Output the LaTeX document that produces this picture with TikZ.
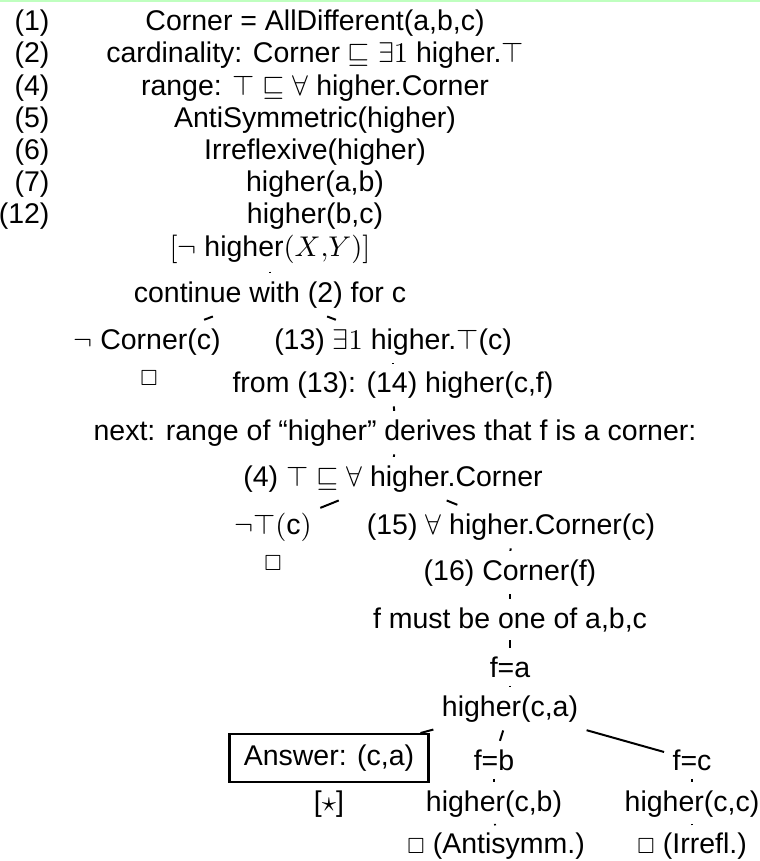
\documentclass[tikz,border=0pt]{standalone}
\usepackage{amsmath,amssymb}
\usepackage{fontspec}
\setmainfont{Liberation Sans}
\usepackage{tikz}
\usetikzlibrary{positioning}

\begin{document}
\begin{tikzpicture}[x=0.351pt, y=-0.351pt, lbl/.style={inner sep=2.8pt, anchor=base}, num/.style={inner sep=2.8pt, anchor=base east}, ans/.style={draw, line width=0.8pt, inner xsep=5pt, inner ysep=3.7pt}, link/.style={line width=0.7pt}]
\useasboundingbox (0,0) rectangle (760,861);
\draw[green!25, line width=0.6pt] (0,1) -- (760,1);
\node[num] (n1) at (58,30) {(1)};
\node[num] (n2) at (58,62) {(2)};
\node[num] (n4) at (58,95) {(4)};
\node[num] (n5) at (58,127) {(5)};
\node[num] (n6) at (58,159) {(6)};
\node[num] (n7) at (58,191) {(7)};
\node[num] (n12) at (58,223) {(12)};
\node[lbl] (ax1) at (315,30) {Corner = AllDifferent(a,b,c)};
\node[lbl] (ax2) at (315,62) {cardinality: Corner $\sqsubseteq$ $\exists 1$ higher.$\top$};
\node[lbl] (ax4) at (315,95) {range: $\top$ $\sqsubseteq$ $\forall$ higher.Corner};
\node[lbl] (ax5) at (315,127) {AntiSymmetric(higher)};
\node[lbl] (ax6) at (315,159) {Irreflexive(higher)};
\node[lbl] (ax7) at (315,191) {higher(a,b)};
\node[lbl] (ax12) at (315,223) {higher(b,c)};
\node[lbl] (goal) at (270,256) {$[\neg$ higher$(X{,}Y)]$};
\node[lbl] (cont) at (270,302) {continue with (2) for c};
\node[lbl] (ncorner) at (147,349) {$\neg$ Corner(c)};
\node[lbl] (ex13) at (393,349) {(13) $\exists 1$ higher.$\top$(c)};
\node[lbl] (clos1) at (149,385) {$\scriptstyle\square$};
\node[lbl] (from14) at (393,392) {from (13): (14) higher(c,f)};
\node[lbl] (next) at (395,440) {next: range of “higher” derives that f is a corner:};
\node[lbl] (rng4) at (393,486) {(4) $\top\sqsubseteq\forall$ higher.Corner};
\node[lbl] (ntop) at (273,534) {$\neg\top($c$)$};
\node[lbl] (all15) at (511,534) {(15) $\forall$ higher.Corner(c)};
\node[lbl] (clos2) at (273,570) {$\scriptstyle\square$};
\node[lbl] (corner16) at (510,580) {(16) Corner(f)};
\node[lbl] (fmust) at (510,628) {f must be one of a,b,c};
\node[lbl] (fa) at (510,677) {f=a};
\node[lbl] (hca) at (510,716) {higher(c,a)};
\node[ans] (answer) at (329,758) {Answer: (c,a)};
\node[lbl] (fb) at (494,770) {f=b};
\node[lbl] (fc) at (692,770) {f=c};
\node[lbl] (star) at (329,811) {[$\star$]};
\node[lbl] (hcb) at (494,811) {higher(c,b)};
\node[lbl] (hcc) at (692,811) {higher(c,c)};
\node[lbl] (antis) at (496,853) {$\scriptstyle\square$ (Antisymm.)};
\node[lbl] (irr) at (692,853) {$\scriptstyle\square$ (Irrefl.)};
\draw[link] (goal) -- (cont);
\draw[link] (cont) -- (ncorner);
\draw[link] (cont) -- (ex13);
\draw[link] (ex13) -- (from14);
\draw[link] (from14) -- (next);
\draw[link] (next) -- (rng4);
\draw[link] (rng4) -- (ntop);
\draw[link] (rng4) -- (all15);
\draw[link] (all15) -- (corner16);
\draw[link] (corner16) -- (fmust);
\draw[link] (fmust) -- (fa);
\draw[link] (fa) -- (hca);
\draw[link] (hca) -- (answer);
\draw[link] (hca) -- (fb);
\draw[link] (hca) -- (fc);
\draw[link] (answer) -- (star);
\draw[link] (fb) -- (hcb);
\draw[link] (fc) -- (hcc);
\draw[link] (hcb) -- (antis);
\draw[link] (hcc) -- (irr);
\end{tikzpicture}
\end{document}
